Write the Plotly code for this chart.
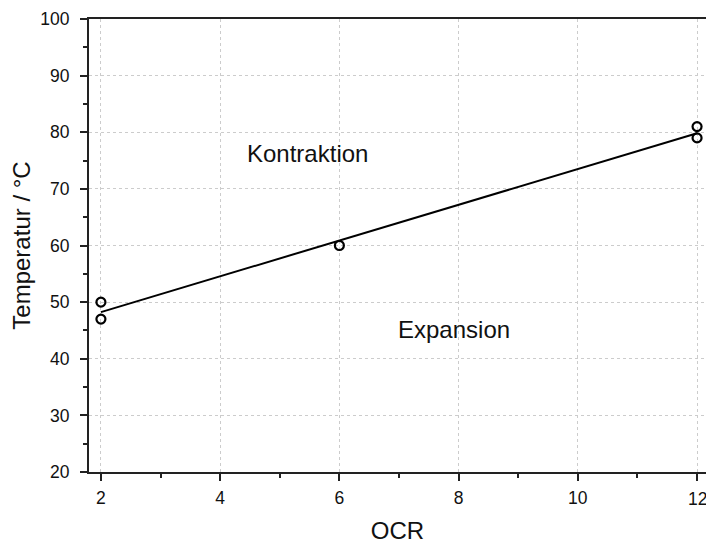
import numpy as np
import plotly.graph_objects as go

# Measured transition temperatures vs. overconsolidation ratio
ocr = [2, 2, 6, 12, 12]
temperatur = [50, 47, 60, 81, 79]

# Linear regression through the measurements
slope, intercept = np.polyfit(ocr, temperatur, 1)
fit_x = [min(ocr), max(ocr)]
fit_y = [slope * x + intercept for x in fit_x]

x_ticks = [2, 4, 6, 8, 10, 12]
x_tick_labels = ["2", "4", "6", "8", "10", "12"]
y_ticks = [20, 30, 40, 50, 60, 70, 80, 90, 100]

font_family = "Liberation Sans, Arial, sans-serif"
text_color = "#111111"
tick_size = 17.5
title_size = 24

fig = go.Figure()

fig.add_trace(go.Scatter(
    x=fit_x, y=fit_y, mode="lines",
    line=dict(color="black", width=2),
    showlegend=False, hoverinfo="skip",
))

fig.add_trace(go.Scatter(
    x=ocr, y=temperatur, mode="markers",
    marker=dict(symbol="circle-open", size=9, color="black",
                line=dict(color="black", width=2.2)),
    showlegend=False,
))

fig.add_annotation(x=5.46, y=76.3, text="Kontraktion", showarrow=False,
                   font=dict(size=title_size, color=text_color, family=font_family))
fig.add_annotation(x=7.93, y=45.1, text="Expansion", showarrow=False,
                   font=dict(size=title_size, color=text_color, family=font_family))

# The last x tick label sits on the right edge of the page; plotly would hide
# it as an overflowing tick label, so it is drawn as an annotation instead.
shown_x_labels = x_tick_labels[:-1] + [""]
fig.add_annotation(x=x_ticks[-1], xref="x", y=0, yref="paper",
                   yanchor="top", yshift=-15, showarrow=False,
                   text=x_tick_labels[-1],
                   font=dict(size=tick_size, color=text_color, family=font_family))

axis_common = dict(
    showline=True, linecolor="#222222", linewidth=2,
    ticks="outside", ticklen=7, tickwidth=2, tickcolor="#222222",
    showgrid=True, gridcolor="#cccccc", gridwidth=1, griddash="dot",
    zeroline=False,
    tickfont=dict(size=tick_size, color=text_color, family=font_family),
)

fig.update_xaxes(
    range=[1.8, 12.15], tickvals=x_ticks, ticktext=shown_x_labels, mirror=True,
    ticklabelstandoff=2,
    title=dict(text="OCR", font=dict(size=title_size, color=text_color, family=font_family),
               standoff=19),
    minor=dict(dtick=1, tick0=1, ticks="outside", ticklen=4, tickwidth=2,
               tickcolor="#222222", showgrid=False),
    **axis_common,
)
fig.update_yaxes(
    range=[20, 100], tickvals=y_ticks, mirror=False,
    ticklabelstandoff=7,
    title=dict(text="Temperatur / °C", font=dict(size=title_size, color=text_color, family=font_family),
               standoff=3),
    minor=dict(dtick=5, tick0=15, ticks="outside", ticklen=4, tickwidth=2,
               tickcolor="#222222", showgrid=False),
    **axis_common,
)

fig.update_layout(
    width=706, height=544,
    margin=dict(l=89, r=0, t=19, b=72),
    paper_bgcolor="white", plot_bgcolor="white",
    font=dict(family=font_family, color=text_color),
)

fig.write_html("out.html")
